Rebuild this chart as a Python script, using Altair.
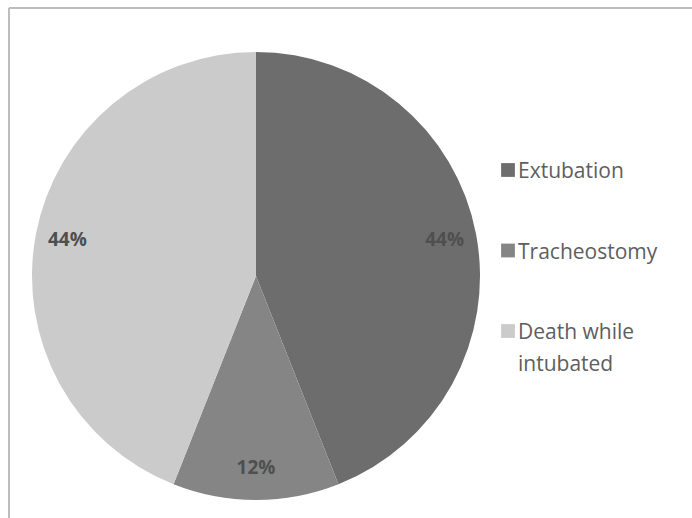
import altair as alt
import pandas as pd

# Outcome shares (percent)
categories = ["Extubation", "Tracheostomy", "Death while intubated"]
shares = [44, 12, 44]
legend_text = ["Extubation", "Tracheostomy", "Death while\nintubated"]
slice_colors = ["#6d6d6d", "#858585", "#cbcbcb"]

df = pd.DataFrame({
    "category": categories,
    "share": shares,
    "idx": list(range(len(categories))),
    "legend_label": legend_text,
})

W, H = 692, 518
CX, CY, R = 256, 276, 224

color = alt.Color(
    "category:N",
    scale=alt.Scale(domain=categories, range=slice_colors),
    legend=None,
)

base = alt.Chart(df).encode(
    theta=alt.Theta("share:Q", stack=True),
    order=alt.Order("idx:Q"),
)

pie = base.mark_arc(outerRadius=R).encode(
    color=color,
    x=alt.value(CX),
    y=alt.value(CY),
)

pie_labels = base.transform_calculate(
    pct="datum.share + '%'"
).mark_text(
    radius=192,
    font="Open Sans",
    fontSize=19,
    fontWeight="bold",
    color="#4f4f4f",
).encode(
    text="pct:N",
    x=alt.value(CX),
    y=alt.value(CY),
)

# Legend drawn as squares + labels down the right side
legend_y = alt.Y("idx:Q", scale=alt.Scale(domain=[0, 2], range=[170, 331]), axis=None)

legend_swatches = alt.Chart(df).mark_square(size=190, opacity=1).encode(
    x=alt.value(508),
    y=legend_y,
    color=color,
)

legend_labels = alt.Chart(df).mark_text(
    align="left",
    baseline="alphabetic",
    dy=8,
    lineBreak="\n",
    lineHeight=32,
    font="Open Sans",
    fontSize=21,
    color="#5e5e5e",
).encode(
    x=alt.value(518),
    y=legend_y,
    text="legend_label:N",
)

# Frame lines along the top and left edges
frame_top = alt.Chart(df).mark_rule(color="#bdbdbd", strokeWidth=2).encode(
    x=alt.value(9), x2=alt.value(W), y=alt.value(8)
)
frame_left = alt.Chart(df).mark_rule(color="#bdbdbd", strokeWidth=2).encode(
    x=alt.value(9), y=alt.value(8), y2=alt.value(H)
)

chart = alt.layer(
    pie, pie_labels, legend_swatches, legend_labels, frame_top, frame_left
).properties(
    width=W,
    height=H,
    autosize=alt.AutoSizeParams(type="none"),
    padding=0,
    background="white",
).configure_view(stroke=None)

chart.save("out.html", embed_options={"renderer": "svg", "actions": False})
